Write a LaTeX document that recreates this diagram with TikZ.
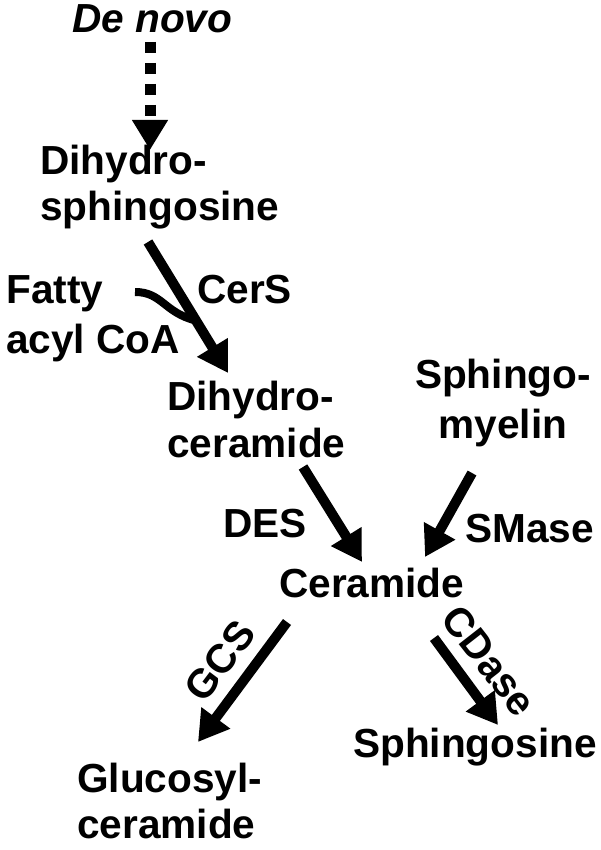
\documentclass[tikz,border=0pt]{standalone}
\usepackage{fontspec}
\setmainfont{Liberation Sans}
\usepackage{tikz}
\usetikzlibrary{arrows.meta,calc}
\tikzset{>={Triangle[length=30pt,width=34pt]}}
\tikzstyle{chem} = [inner sep=0pt,anchor=base west,align=left,font=\bfseries\fontsize{40.6}{47}\selectfont]
\tikzstyle{enz}  = [inner sep=0pt,font=\bfseries\fontsize{40.6}{47}\selectfont]
\tikzstyle{conv} = [->,line width=10pt]

\begin{document}
\begin{tikzpicture}[x=1pt,y=-1pt]
	\useasboundingbox (0,0) rectangle (600,850);
	
	\node[chem,font=\bfseries\itshape\fontsize{40.6}{47}\selectfont] (denovo) at (72,33) {De novo};
	\node[chem] (dhsph) at (40,220) {Dihydro-\\[-2pt]sphingosine};
	\node[chem] (fatty) at (6,353) {Fatty\\[3pt]acyl CoA};
	\node[chem] (dhcer) at (167,457) {Dihydro-\\ceramide};
	\node[chem,anchor=base,align=center] (sm) at (503,438) {Sphingo-\\[3pt]myelin};
	\node[chem] (cer) at (279,597) {Ceramide};
	\node[chem] (glccer) at (77,838) {Glucosyl-\\[-1pt]ceramide};
	\node[chem] (sph) at (353,757) {Sphingosine};
	
	\node[enz,anchor=base west] (cers) at (197,303) {CerS};
	\node[enz,anchor=base west] (des) at (223,537) {DES};
	\node[enz,anchor=base west] (smase) at (465,542) {SMase};
	\node[enz,rotate=53] (gcs) at (220,661) {GCS};
	\node[enz,rotate=-52] (cdase) at (489,661) {CDase};
	
	\coordinate (cers1) at ($(dhsph.base west)+(108,22)$);
	\coordinate (cers2) at ($(dhcer.base west)+(61,-84)$);
	\coordinate (join) at ($(cers1)!0.6!(cers2)$);
	\coordinate (acyl) at ($(fatty.base west)+(129,-61)$);
	
	\draw[->,line width=11pt,dash pattern=on 11pt off 10pt] ($(denovo.base west)+(78,9)$) -- ($(dhsph.base west)+(110,-70)$);
	\draw[line width=8pt] (acyl) .. controls +(27,0) and +(-32,-8) .. (join);
	\draw[conv] (cers1) -- (cers2);
	\draw[conv] ($(dhcer.base west)+(136,10)$) -- ($(cer.base west)+(83,-35)$);
	\draw[conv] ($(sm.base)+(-31,35)$) -- ($(cer.base west)+(146,-40)$);
	\draw[conv] ($(cer.base west)+(8,25)$) -- ($(glccer.base west)+(121,-96)$);
	\draw[conv] ($(cer.base west)+(155,41)$) -- ($(sph.base west)+(145,-32)$);
\end{tikzpicture}
\end{document}
